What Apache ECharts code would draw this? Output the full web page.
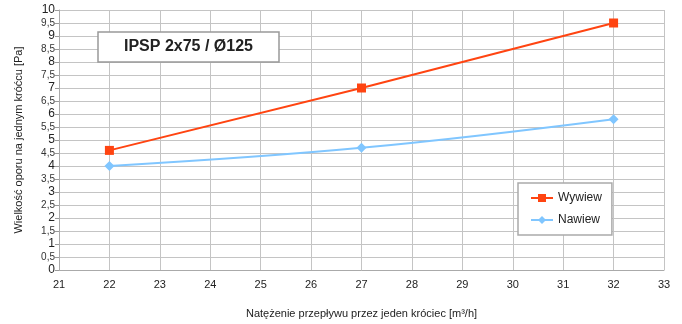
<!DOCTYPE html>
<html><head><meta charset="utf-8">
<script src="https://cdn.jsdelivr.net/npm/echarts@6/dist/echarts.min.js"></script>
<style>html,body{margin:0;padding:0;background:#fff}#c{width:682px;height:324px}</style>
</head><body><div id="c"></div>
<script>
const xValues = [22, 27, 32];
const wywiew = [4.6, 7.0, 9.5];
const nawiew = [4.0, 4.7, 5.8];
const seriesNames = ['Wywiew', 'Nawiew'];
const titleText = 'IPSP 2x75 / Ø125';
const xName = 'Natężenie przepływu przez jeden króciec [m³/h]';
const yName = 'Wielkość oporu na jednym króćcu [Pa]';

const chart = echarts.init(document.getElementById('c'));
const font = 'Liberation Sans, Arial, sans-serif';
chart.setOption({
  animation: false,
  textStyle: {fontFamily: font},
  grid: {left: 59, right: 18, top: 10, bottom: 50},
  title: {
    text: titleText, left: 98, top: 32,
    padding: [7, 26, 7, 26],
    borderColor: '#999', borderWidth: 1.5, backgroundColor: '#fff',
    textStyle: {fontSize: 16, fontWeight: 'bold', color: '#222', fontFamily: font}
  },
  legend: {
    orient: 'vertical', left: 518, top: 183,
    padding: [9, 10, 9, 12], itemGap: 10,
    borderColor: '#aaa', borderWidth: 1.5, backgroundColor: '#fff',
    itemWidth: 22, itemHeight: 10,
    textStyle: {fontSize: 12, color: '#222'},
    data: seriesNames
  },
  xAxis: {
    type: 'value', min: 21, max: 33, interval: 1,
    name: xName, nameLocation: 'middle', nameGap: 38,
    nameTextStyle: {fontSize: 11, color: '#222'},
    axisLine: {lineStyle: {color: '#aaa'}},
    axisTick: {show: false},
    axisLabel: {fontSize: 11, color: '#222', margin: 9},
    splitLine: {show: true, lineStyle: {color: '#c4c4c4', width: 1}}
  },
  yAxis: {
    type: 'value', min: 0, max: 10, interval: 0.5,
    name: yName, nameLocation: 'middle', nameGap: 35, nameRotate: 90,
    nameTextStyle: {fontSize: 11, color: '#222'},
    axisLine: {show: true, lineStyle: {color: '#aaa'}},
    axisTick: {show: true, length: 4, lineStyle: {color: '#999'}},
    axisLabel: {
      color: '#222', margin: 4,
      formatter: v => Number.isInteger(v) ? '{b|' + v + '}' : '{s|' + String(v).replace('.', ',') + '}',
      rich: {b: {fontSize: 12, color: '#222'}, s: {fontSize: 10, color: '#333'}}
    },
    splitLine: {show: true, lineStyle: {color: '#c4c4c4', width: 1}}
  },
  series: [
    {
      name: seriesNames[0], type: 'line',
      data: xValues.map((x, i) => [x, wywiew[i]]),
      symbol: 'rect', symbolSize: 9,
      itemStyle: {color: '#ff4411'},
      lineStyle: {color: '#ff4411', width: 2}
    },
    {
      name: seriesNames[1], type: 'line', smooth: 0.4,
      data: xValues.map((x, i) => [x, nawiew[i]]),
      symbol: 'diamond', symbolSize: 10,
      itemStyle: {color: '#80c6ff'},
      lineStyle: {color: '#80c6ff', width: 2}
    }
  ]
});
</script></body></html>
